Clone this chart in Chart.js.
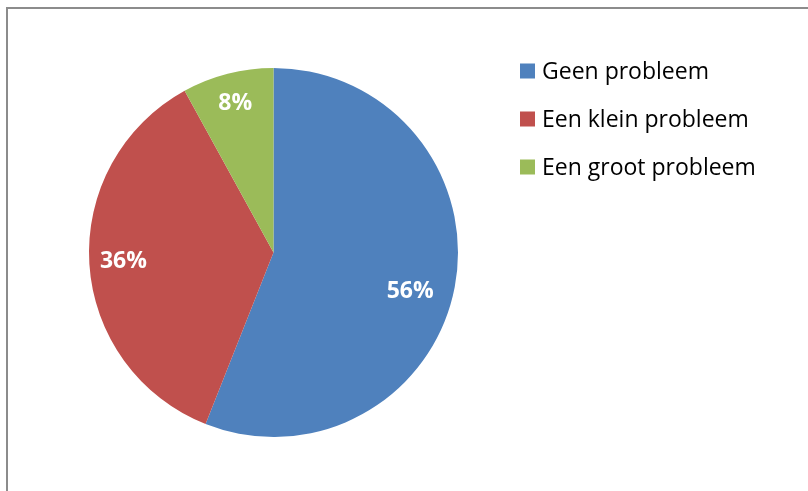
<!DOCTYPE html>
<html lang="en">
<head>
    <meta charset="UTF-8">
    <title>Probleem</title>
    <style>
        html, body {
            margin: 0;
            padding: 0;
            background: #ffffff;
            overflow: hidden;
        }
        .frame {
            position: absolute;
            left: 6px;
            top: 7px;
            width: 820px;
            height: 500px;
            border-left: 2px solid #8c8c8c;
            border-top: 2px solid #8c8c8c;
        }
        .wrap {
            position: absolute;
            left: 0;
            top: 0;
            width: 808px;
            height: 491px;
        }
    </style>
</head>
<body>
    <div class="frame"></div>
    <div class="wrap"><canvas id="chartContainer"></canvas></div>
    <script src="https://cdn.jsdelivr.net/npm/chart.js@4/dist/chart.umd.min.js"></script>
    <script>
        const categories = ["Geen probleem", "Een klein probleem", "Een groot probleem"];
        const values = [56, 36, 8];
        const colors = ["#4F81BD", "#C0504D", "#9BBB59"];
        const font = "'Open Sans', sans-serif";
        // where each label sits: fraction of radius, extra turn in degrees
        const labelPlace = [{ r: 0.77, a: 5 }, { r: 0.815, a: 0 }, { r: 0.835, a: 0 }];

        // percentage labels inside the slices
        const sliceLabels = {
            id: 'sliceLabels',
            afterDatasetsDraw(chart) {
                const c = chart.ctx;
                const total = values.reduce((a, b) => a + b, 0);
                c.save();
                c.fillStyle = "#ffffff";
                c.font = "bold 23px " + font;
                c.textAlign = "center";
                c.textBaseline = "middle";
                chart.getDatasetMeta(0).data.forEach((arc, i) => {
                    const p = labelPlace[i];
                    const mid = (arc.startAngle + arc.endAngle) / 2 + p.a * Math.PI / 180;
                    const r = arc.outerRadius * p.r;
                    const x = arc.x + Math.cos(mid) * r;
                    const y = arc.y + Math.sin(mid) * r;
                    c.fillText(Math.round(values[i] / total * 100) + "%", x, y);
                });
                c.restore();
            }
        };

        // legend on the right, drawn by hand so the pie keeps its place
        const sideLegend = {
            id: 'sideLegend',
            afterDraw(chart) {
                const c = chart.ctx;
                c.save();
                c.font = "23px " + font;
                c.textBaseline = "alphabetic";
                categories.forEach((label, i) => {
                    const base = 79 + i * 48;
                    c.fillStyle = colors[i];
                    c.fillRect(520, base - 15.5, 15, 15);
                    c.fillStyle = "#000000";
                    c.fillText(label, 542, base);
                });
                c.restore();
            }
        };

        new Chart(document.getElementById("chartContainer"), {
            type: 'pie',
            data: {
                labels: categories,
                datasets: [{
                    data: values,
                    backgroundColor: colors,
                    borderWidth: 0
                }]
            },
            options: {
                responsive: true,
                maintainAspectRatio: false,
                animation: false,
                layout: {
                    padding: { top: 68, bottom: 54, left: 89, right: 350 }
                },
                plugins: {
                    legend: { display: false },
                    tooltip: { enabled: false }
                }
            },
            plugins: [sliceLabels, sideLegend]
        });
    </script>
</body>
</html>
